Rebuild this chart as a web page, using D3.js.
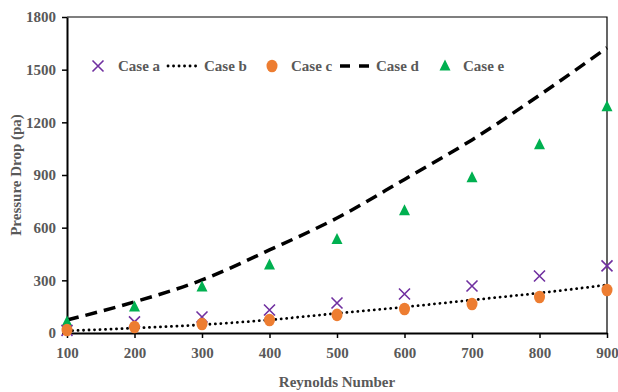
<!DOCTYPE html>
<html>
<head>
<meta charset="UTF-8">
<title>Pressure Drop</title>
<script src="https://d3js.org/d3.v7.min.js"></script>
<style>
  body { margin: 0; background: #fff; }
  text { font-family: "Liberation Serif", "Times New Roman", serif; font-weight: bold; fill: #595959; }
</style>
</head>
<body>
<div id="chart"></div>
<script>
// data
const reynolds = [100, 200, 300, 400, 500, 600, 700, 800, 900];
const caseA = [15, 63, 91, 131, 171, 222, 268, 325, 382];
const caseB = [12, 28, 47, 75, 112, 148, 188, 228, 274];
const caseC = [17, 34, 51, 74, 103, 137, 165, 205, 245];
const caseD = [74, 177, 302, 473, 655, 875, 1100, 1355, 1625];
const caseE = [63, 148, 262, 388, 533, 696, 884, 1072, 1289];
const yTicks = [0, 300, 600, 900, 1200, 1500, 1800];
const xTicks = reynolds;

const W = 618, H = 392;
const m = {left: 67, right: 11, top: 17, bottom: 59};

const svg = d3.select("#chart").append("svg")
    .attr("width", W).attr("height", H);

const x = d3.scaleLinear().domain([100, 900]).range([m.left, W - m.right]);
const y = d3.scaleLinear().domain([0, 1800]).range([H - m.bottom, m.top]);

// frame top/right
svg.append("path")
    .attr("d", `M${x(100)},${y(1800)}H${x(900)}V${y(0)}`)
    .attr("fill", "none").attr("stroke", "#000").attr("stroke-width", 1.2);

const xAxis = svg.append("g")
    .attr("transform", `translate(0,${y(0)})`)
    .call(d3.axisBottom(x).tickValues(xTicks).tickFormat(d3.format("d"))
        .tickSize(5).tickSizeOuter(0).tickPadding(9));
const yAxis = svg.append("g")
    .attr("transform", `translate(${x(100)},0)`)
    .call(d3.axisLeft(y).tickValues(yTicks).tickFormat(d3.format("d"))
        .tickSize(5).tickSizeOuter(0).tickPadding(6));

[xAxis, yAxis].forEach(g => {
    g.attr("font-family", "Liberation Serif, serif").attr("font-size", 15);
    g.select(".domain").attr("stroke", "#000").attr("stroke-width", 2);
    g.selectAll(".tick line").attr("stroke", "#000").attr("stroke-width", 1.5);
    g.selectAll(".tick text").attr("fill", "#595959");
});

svg.append("text")
    .attr("x", (x(100) + x(900)) / 2).attr("y", 387)
    .attr("text-anchor", "middle").attr("font-size", 15)
    .text("Reynolds Number");
svg.append("text")
    .attr("transform", `translate(21,${(y(0) + y(1800)) / 2}) rotate(-90)`)
    .attr("text-anchor", "middle").attr("font-size", 15)
    .text("Pressure Drop (pa)");

const line = d3.line()
    .x((d, i) => x(reynolds[i]))
    .y(d => y(d))
    .curve(d3.curveMonotoneX);

// Case d dashed
svg.append("path").datum(caseD)
    .attr("d", line).attr("fill", "none")
    .attr("stroke", "#000").attr("stroke-width", 3.5)
    .attr("stroke-dasharray", "12,7");

// Case b dotted
svg.append("path").datum(caseB)
    .attr("d", line).attr("fill", "none")
    .attr("stroke", "#000").attr("stroke-width", 2.8)
    .attr("stroke-linecap", "round")
    .attr("stroke-dasharray", "0.1,5.4");

const purple = "#7030A0", orange = "#ED7D31", green = "#00B050";

function cross(g, cx, cy) {
    const s = 5.5;
    g.append("path")
        .attr("d", `M${cx - s},${cy - s}L${cx + s},${cy + s}M${cx - s},${cy + s}L${cx + s},${cy - s}`)
        .attr("stroke", purple).attr("stroke-width", 1.6).attr("fill", "none");
}
function tri(g, cx, cy) {
    g.append("path")
        .attr("d", `M${cx},${cy - 6.5}L${cx + 5.5},${cy + 4.5}L${cx - 5.5},${cy + 4.5}Z`)
        .attr("fill", green);
}
function dot(g, cx, cy) {
    g.append("ellipse").attr("cx", cx).attr("cy", cy)
        .attr("rx", 5.5).attr("ry", 6.3).attr("fill", orange);
}

const marks = svg.append("g");
caseE.forEach((v, i) => tri(marks, x(reynolds[i]), y(v)));
caseA.forEach((v, i) => cross(marks, x(reynolds[i]), y(v)));
caseC.forEach((v, i) => dot(marks, x(reynolds[i]), y(v)));

// legend
const leg = svg.append("g");
const ly = 66;
const legendItems = [
    {name: "Case a", kind: "cross", x0: 98, tx: 118},
    {name: "Case b", kind: "dot", x0: 168, tx: 204},
    {name: "Case c", kind: "circle", x0: 272, tx: 291},
    {name: "Case d", kind: "dash", x0: 340, tx: 376},
    {name: "Case e", kind: "tri", x0: 445, tx: 463}
];
legendItems.forEach(it => {
    if (it.kind === "cross") cross(leg, it.x0, ly);
    if (it.kind === "circle") dot(leg, it.x0, ly);
    if (it.kind === "tri") tri(leg, it.x0, ly);
    if (it.kind === "dot") {
        leg.append("line").attr("x1", it.x0).attr("x2", it.x0 + 32)
            .attr("y1", ly).attr("y2", ly)
            .attr("stroke", "#000").attr("stroke-width", 2.8)
            .attr("stroke-linecap", "round").attr("stroke-dasharray", "0.1,5.4");
    }
    if (it.kind === "dash") {
        leg.append("line").attr("x1", it.x0).attr("x2", it.x0 + 33)
            .attr("y1", ly).attr("y2", ly)
            .attr("stroke", "#000").attr("stroke-width", 3.5)
            .attr("stroke-dasharray", "10,9");
    }
    leg.append("text").attr("x", it.tx).attr("y", ly + 5)
        .attr("font-size", 15).text(it.name);
});
</script>
</body>
</html>
